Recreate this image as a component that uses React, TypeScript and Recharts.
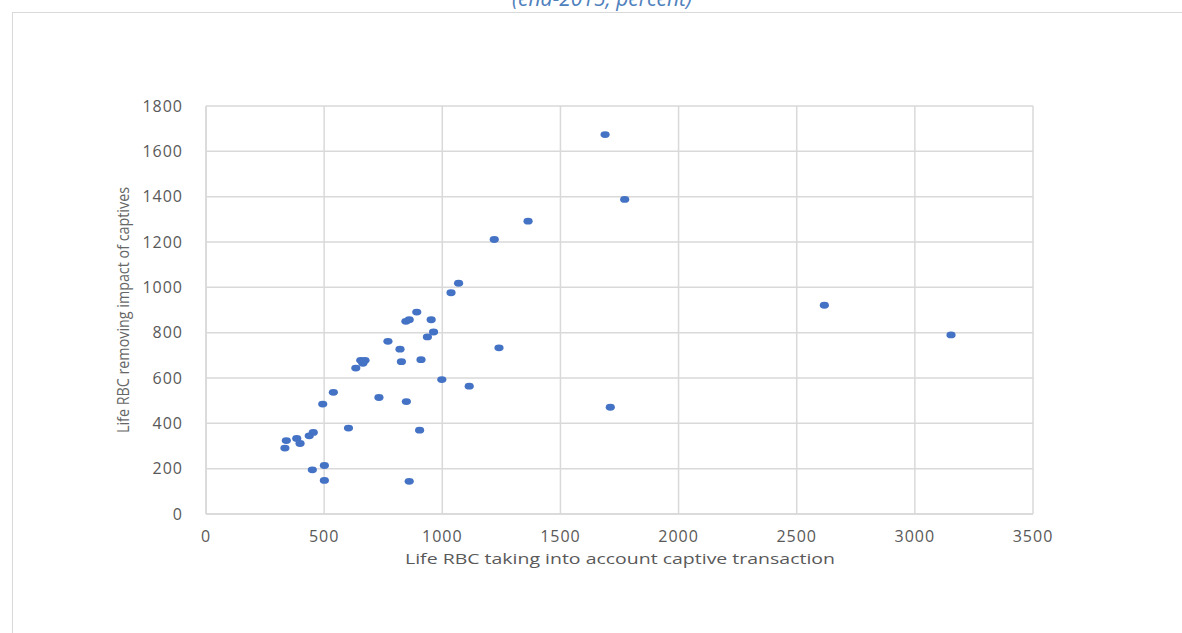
import React from "react";
import { ScatterChart, Scatter, XAxis, YAxis, CartesianGrid, Label } from "recharts";

const xValues = [1069, 1037, 892, 953, 846, 860, 963, 937, 770, 821, 1240, 827, 910, 655, 673, 664, 634, 998, 1114, 539, 494, 732, 848, 603, 904, 454, 437, 384, 340, 398, 334, 501, 450, 501, 860, 2617, 1711, 1689, 1772, 1363, 1220, 3153];
const yValues = [1018, 976, 891, 857, 850, 857, 803, 781, 762, 727, 733, 672, 681, 678, 678, 665, 644, 593, 564, 537, 485, 514, 496, 379, 370, 360, 345, 333, 324, 311, 291, 214, 195, 148, 144, 921, 471, 1674, 1388, 1292, 1211, 790];
const xTicks = [0, 500, 1000, 1500, 2000, 2500, 3000, 3500];
const yTicks = [0, 200, 400, 600, 800, 1000, 1200, 1400, 1600, 1800];

const data = xValues.map((x, i) => ({ x, y: yValues[i] }));

const Dot = (props: any) => {
  const { cx, cy } = props;
  if (cx == null || cy == null) return null;
  return <ellipse cx={cx} cy={cy} rx={4.6} ry={3.4} fill="#4472C4" />;
};

const tickStyle = { fill: "#595959", fontSize: 16, fontFamily: "Open Sans", letterSpacing: 1 };

export default function App() {
  return (
    <div style={{ position: "absolute", left: 0, top: 0, width: 1182, height: 633, background: "#fff", overflow: "hidden" }}>
      <div style={{ position: "absolute", left: 12, top: 12, width: 1170, height: 621, borderTop: "1px solid #d9d9d9", borderLeft: "1px solid #d9d9d9", boxSizing: "border-box" }} />
      <svg width={1182} height={20} style={{ position: "absolute", left: 0, top: 0 }}>
        <text x={602} y={6} textAnchor="middle" fill="#4F81BD" fontStyle="italic" fontSize={21} fontFamily="Open Sans">(end-2015, percent)</text>
      </svg>
      <div style={{ position: "absolute", left: 0, top: 0 }}>
        <ScatterChart width={1182} height={633} margin={{ top: 106, right: 149, bottom: 89, left: 146 }}>
          <CartesianGrid stroke="#d9d9d9" strokeWidth={1.5} horizontalValues={yTicks} verticalValues={xTicks} />
          <XAxis
            type="number"
            dataKey="x"
            domain={[0, 3500]}
            ticks={xTicks}
            tickLine={false}
            axisLine={{ stroke: "#d9d9d9", strokeWidth: 1.5 }}
            tick={tickStyle}
            tickMargin={11}
            height={30}
            interval={0}
          >
            <Label
              content={() => (
                <text x={620} y={564} textAnchor="middle" fill="#595959" fontSize={15} fontFamily="Open Sans" textLength={430} lengthAdjust="spacingAndGlyphs">
                  Life RBC taking into account captive transaction
                </text>
              )}
            />
          </XAxis>
          <YAxis
            type="number"
            dataKey="y"
            domain={[0, 1800]}
            ticks={yTicks}
            tickLine={false}
            axisLine={{ stroke: "#d9d9d9", strokeWidth: 1.5 }}
            tick={tickStyle}
            tickMargin={17}
            width={60}
            interval={0}
          >
            <Label
              content={() => (
                <text x={0} y={0} transform="translate(129,310) rotate(-90)" textAnchor="middle" fill="#666666" fontSize={16} fontFamily="Open Sans" textLength={246} lengthAdjust="spacingAndGlyphs">
                  Life RBC removing impact of captives
                </text>
              )}
            />
          </YAxis>
          <Scatter data={data} shape={<Dot />} isAnimationActive={false} />
        </ScatterChart>
      </div>
    </div>
  );
}
